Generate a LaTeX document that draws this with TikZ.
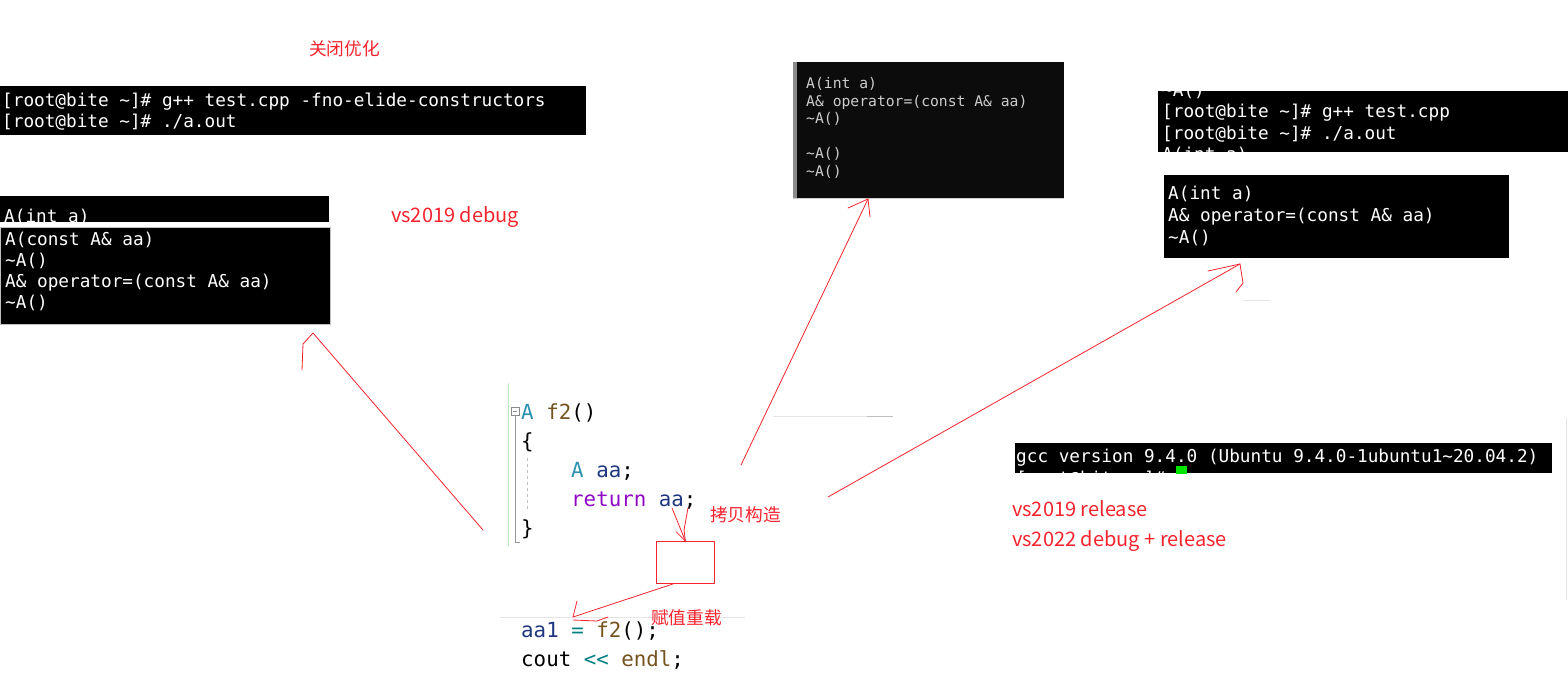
\documentclass[tikz,border=0pt]{standalone}
\usepackage{fontspec}
\setmonofont{DejaVu Sans Mono}
\newfontfamily\cjkfont{Noto Sans CJK SC}
\usepackage{tikz}
\definecolor{noteRed}{RGB}{245,35,45}
\definecolor{consoleBlack}{RGB}{12,12,12}
\definecolor{consoleGray}{RGB}{204,204,204}
\definecolor{codeTeal}{RGB}{43,145,175}
\definecolor{codeBrown}{RGB}{116,83,31}
\definecolor{codeNavy}{RGB}{31,55,127}
\definecolor{codePurple}{RGB}{143,8,196}
\definecolor{codeOp}{RGB}{0,128,128}
\definecolor{cursorGreen}{RGB}{0,230,0}
\definecolor{editorGreen}{RGB}{190,235,190}
\tikzset{
  term box/.style={fill=black,inner sep=0pt,outer sep=0pt,anchor=north west},
  term line/.style={text=white,font=\ttfamily\fontsize{17.7}{21}\selectfont,inner sep=0pt,anchor=base west},
  console box/.style={fill=consoleBlack,inner sep=0pt,outer sep=0pt,anchor=north west},
  console line/.style={text=consoleGray,font=\ttfamily\fontsize{14.7}{17}\selectfont,inner sep=0pt,anchor=base west},
  code line/.style={text=black,font=\ttfamily\fontsize{20.8}{29}\selectfont,inner sep=0pt,anchor=base west},
  note/.style={text=noteRed,font=\cjkfont\fontsize{17.7}{21}\selectfont,inner sep=0pt,anchor=base west},
  note latin/.style={note,font=\cjkfont\fontsize{20}{23}\selectfont},
  red pen/.style={draw=noteRed,line width=0.8pt,line cap=round,line join=round},
  faint line/.style={draw=black!10,line width=1pt}
}
\begin{document}
\begin{tikzpicture}[x=1pt,y=-1pt]
      \useasboundingbox (0,0) rectangle (1568,686);
      % g++ without elision, top left
      \node[note] (nooptnote) at (309,55) {关闭优化};
      \node[term box,minimum width=586,minimum height=49] (gppbox) at (0,86) {};
      \node[term line] (gppcmd) at (2,106.5) {[root@bite \textasciitilde]\# g++ test.cpp -fno-elide-constructors};
      \node[term line] (gpprun) at (2,127.5) {[root@bite \textasciitilde]\# ./a.out};
      % vs2019 debug output
      \node[term box,minimum width=329,minimum height=26] (ctorbox) at (0,196) {};
      \begin{scope}
        \clip (ctorbox.north west) rectangle (ctorbox.south east);
        \node[term line] (ctorline) at (4,222.5) {A(int a)};
      \end{scope}
      \node[term box,draw=black!25,minimum width=330,minimum height=97] (dbgbox) at (0,227) {};
      \node[term line] (dbgcopy) at (5,245.5) {A(const A\& aa)};
      \node[term line] (dbgdtor) at (5,266.5) {\textasciitilde A()};
      \node[term line] (dbgassign) at (5,287.5) {A\& operator=(const A\& aa)};
      \node[term line] (dbglast) at (5,308.5) {\textasciitilde A()};
      \node[note latin] (dbgnote) at (391,222.5) {vs2019 debug};
      % windows console, middle
      \node[console box,minimum width=271,minimum height=136] (consbox) at (793,62) {};
      \draw[black!20] (consbox.south west) -- (consbox.south east);
      \fill[black!45] (consbox.north west) rectangle ([xshift=4pt]consbox.south west);
      \node[console line] (consctor) at (806,88.5) {A(int a)};
      \node[console line] (consassign) at (806,106) {A\& operator=(const A\& aa)};
      \node[console line] (consdtor) at (806,123.5) {\textasciitilde A()};
      \node[console line] (consdtorb) at (806,158.5) {\textasciitilde A()};
      \node[console line] (consdtorc) at (806,176) {\textasciitilde A()};
      % g++ default, top right
      \node[term box,minimum width=410,minimum height=61] (rtbox) at (1158,91) {};
      \begin{scope}
        \clip (rtbox.north west) rectangle (rtbox.south east);
        \node[term line] (rtprev) at (1162,96) {\textasciitilde A()};
        \node[term line] (rtcmd) at (1162,117.5) {[root@bite \textasciitilde]\# g++ test.cpp};
        \node[term line] (rtrun) at (1162,139) {[root@bite \textasciitilde]\# ./a.out};
        \node[term line] (rtnext) at (1162,160.5) {A(int a)};
      \end{scope}
      \node[term box,minimum width=345,minimum height=83] (relbox) at (1164,175) {};
      \node[term line] (relctor) at (1168,199.5) {A(int a)};
      \node[term line] (relassign) at (1168,221.5) {A\& operator=(const A\& aa)};
      \node[term line] (reldtor) at (1168,243.5) {\textasciitilde A()};
      % gcc version
      \node[term box,minimum width=537,minimum height=30] (gccbox) at (1015,443) {};
      \begin{scope}
        \clip (gccbox.north west) rectangle (gccbox.south east);
        \node[term line] (gccver) at (1016,462.5) {gcc version 9.4.0 (Ubuntu 9.4.0-1ubuntu1\textasciitilde20.04.2)};
        \node[term line] (gccprompt) at (1016,484) {[root@bite \textasciitilde]\#};
        \fill[cursorGreen] (1176,466) rectangle (1187,480);
      \end{scope}
      \node[note latin] (relnote) at (1012,516.5) {vs2019 release};
      \node[note latin] (relnoteb) at (1012,546) {vs2022 debug + release};
      % editor code
      \draw[draw=editorGreen,line width=1pt] (508,383) -- (508,546);
      \draw[draw=black!45,line width=0.6pt] (511,407) rectangle (519,415);
      \draw[draw=black!45,line width=0.6pt] (513,411) -- (517,411);
      \draw[draw=black!40,line width=0.8pt] (515,415) -- (515,542) -- (520,542);
      \draw[draw=black!25,dashed,line width=0.6pt] (527,458) -- (527,512);
      \draw[faint line] (500,617) -- (745,617);
      \draw[faint line] (773,416) -- (893,416);
      \draw[draw=black!25,line width=1pt] (867,416) -- (893,416);
      \draw[faint line] (1243,300) -- (1270,300);
      \draw[faint line] (1566,418) -- (1566,600);
      \node[code line] (sighead) at (521,419.5) {{\color{codeTeal}A} {\color{codeBrown}f2}()};
      \node[code line] (openbrace) at (521,448.5) {\{};
      \node[code line] (declline) at (571,477.5) {{\color{codeTeal}A} {\color{codeNavy}aa};};
      \node[code line] (retline) at (571,506.5) {{\color{codePurple}return} {\color{codeNavy}aa};};
      \node[code line] (closebrace) at (521,535.5) {\}};
      \node[code line] (callline) at (521,637.5) {{\color{codeNavy}aa1} {\color{codeOp}=} {\color{codeBrown}f2}();};
      \node[code line] (coutline) at (521,666.5) {cout {\color{codeOp}<<} {\color{codeBrown}endl};};
      % temporary object and labels
      \node[red pen,draw=noteRed,minimum width=58,minimum height=42,inner sep=0pt,anchor=north west] (tmpbox) at (656,541) {};
      \node[note] (copynote) at (710,521) {拷贝构造};
      \node[note] (assignnote) at (651,624) {赋值重载};
      % hand drawn pointers
      \coordinate (leftfrom) at (483,530);
      \coordinate (lefttip) at (313,333);
      \draw[red pen] (leftfrom) -- (lefttip) -- ++(-10,11) -- ++(-1,26);
      \coordinate (midfrom) at (741,465);
      \coordinate (midtip) at (868,199);
      \draw[red pen] (midfrom) -- (midtip);
      \draw[red pen] (midtip) -- ++(-20,9);
      \draw[red pen] (midtip) -- ++(2,18);
      \coordinate (rightfrom) at (828,497);
      \coordinate (righttip) at (1240,264);
      \draw[red pen] (rightfrom) -- (righttip);
      \draw[red pen] (righttip) -- ++(-32,7);
      \draw[red pen] (righttip) -- ++(3,19) -- ++(-7,9);
      \coordinate (aafrom) at (672,508);
      \coordinate (aafromb) at (688,508);
      \draw[red pen] (aafrom) -- (tmpbox.north);
      \draw[red pen] (aafromb) -- ++(-4,22) -- (tmpbox.north);
      \draw[red pen] ([shift={(-9,-9)}]tmpbox.north) -- (tmpbox.north);
      \coordinate (asgtip) at (573,617);
      \draw[red pen] ([xshift=-12pt]tmpbox.south) -- (asgtip);
      \draw[red pen] (asgtip) -- ++(4,-16);
      \draw[red pen] (asgtip) ++(0,3) -- ++(24,1) -- ++(11,-4);
    \end{tikzpicture}
\end{document}
